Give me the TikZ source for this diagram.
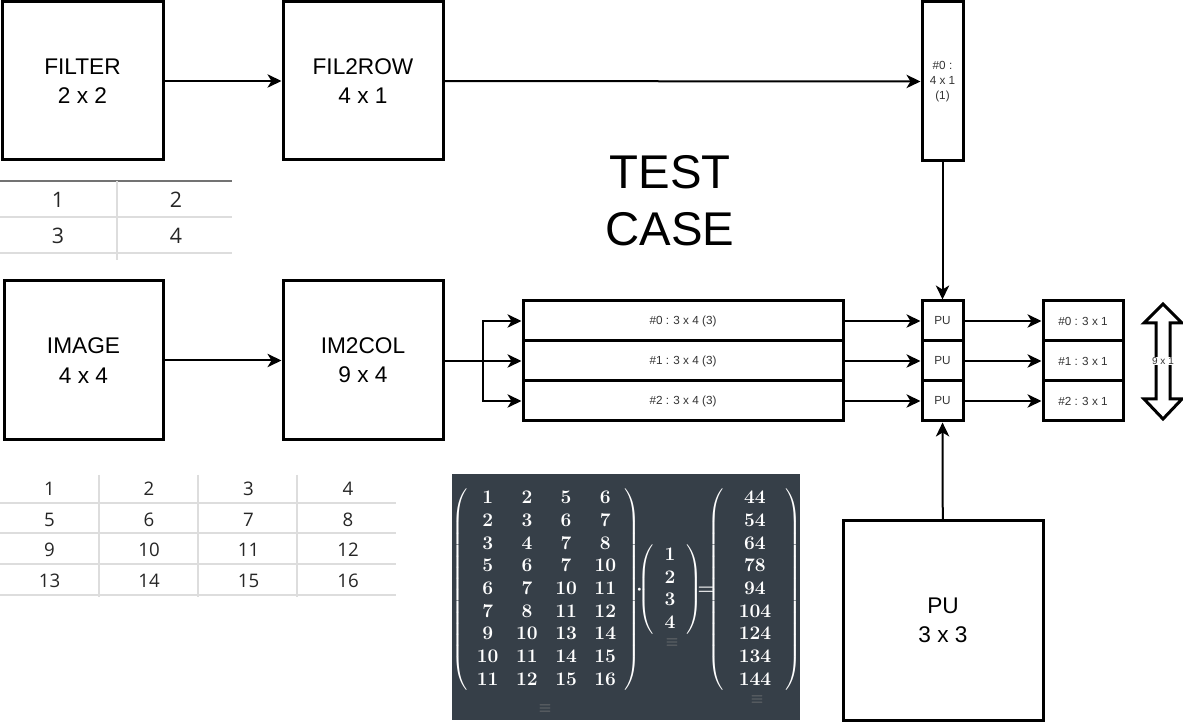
\documentclass[tikz,border=0pt]{standalone}
\usepackage{amsmath,amssymb}
\usepackage{fontspec}
\setmainfont{Liberation Sans}
\newfontfamily\tabfont{Open Sans}
\usetikzlibrary{arrows.meta}

\definecolor{panelbg}{HTML}{363F48}
\definecolor{tabgray}{HTML}{DDDDDD}

\tikzset{
	blk/.style = {draw, line width = 2.25pt, align = center, inner sep = 0pt,
		font = \fontsize{17}{22}\selectfont},
	smallblk/.style = {draw, line width = 2.25pt, align = center, inner sep = 0pt,
		font = \fontsize{8.8}{10.5}\selectfont, text = black!80},
	arr/.style = {line width = 1.5pt, -{Stealth[length = 10.5pt, width = 10pt, inset = 3pt]}},
	tabline/.style = {tabgray, line width = 1pt},
	tabnum/.style = {font = \tabfont\fontsize{14}{16}\selectfont, text = black!85},
	menu/.style = {text = gray, font = \fontsize{12}{12}\selectfont}
}

\begin{document}
\begin{tikzpicture}[x = 0.75pt, y = -0.75pt]
	\useasboundingbox (0,0) rectangle (1183,723);

	% top row
	\node [blk, minimum width = 120.75pt, minimum height = 118.5pt] (filter) at (82.5,81) {FILTER\\2 x 2};
	\node [blk, minimum width = 120pt, minimum height = 118.5pt] (fil2row) at (363,81) {FIL2ROW\\4 x 1};
	\node [smallblk, minimum width = 30.75pt, minimum height = 119.25pt, font = \fontsize{8.8}{11.5}\selectfont] (kernel) at (942.5,81.5) {\#0 :\\4 x 1\\(1)};
	\draw [arr] (filter) -- (fil2row);
	\draw [arr] (fil2row) -- (kernel);

	\node [font = \fontsize{35.5}{43}\selectfont, align = center] (title) at (670,201) {TEST\\CASE};

	% middle row
	\node [blk, minimum width = 119.25pt, minimum height = 119.25pt] (image) at (83.5,360.5) {IMAGE\\4 x 4};
	\node [blk, minimum width = 120pt, minimum height = 119.25pt] (im2col) at (363,360.5) {IM2COL\\9 x 4};
	\draw [arr] (image) -- (im2col);

	\node [smallblk, minimum width = 240pt, minimum height = 30pt] (row0) at (683,321) {\#0 : 3 x 4 (3)};
	\node [smallblk, minimum width = 240pt, minimum height = 30pt] (row1) at (683,361) {\#1 : 3 x 4 (3)};
	\node [smallblk, minimum width = 240pt, minimum height = 30pt] (row2) at (683,401) {\#2 : 3 x 4 (3)};

	\node [smallblk, minimum width = 30.75pt, minimum height = 30pt] (pu0) at (942.5,321) {PU};
	\node [smallblk, minimum width = 30.75pt, minimum height = 30pt] (pu1) at (942.5,361) {PU};
	\node [smallblk, minimum width = 30.75pt, minimum height = 30pt] (pu2) at (942.5,401) {PU};

	\node [smallblk, minimum width = 60pt, minimum height = 30pt] (out0) at (1083,321) {\#0 : 3 x 1};
	\node [smallblk, minimum width = 60pt, minimum height = 30pt] (out1) at (1083,361) {\#1 : 3 x 1};
	\node [smallblk, minimum width = 60pt, minimum height = 30pt] (out2) at (1083,401) {\#2 : 3 x 1};

	\coordinate (split) at (483,361);
	\draw [arr] (im2col.east |- split) -- (row1);
	\draw [arr] (split) |- (row0);
	\draw [arr] (split) |- (row2);
	\draw [arr] (row0) -- (pu0);
	\draw [arr] (row1) -- (pu1);
	\draw [arr] (row2) -- (pu2);
	\draw [arr] (pu0) -- (out0);
	\draw [arr] (pu1) -- (out1);
	\draw [arr] (pu2) -- (out2);
	\draw [arr] (kernel) -- (pu0);

	% 9 x 1 double arrow
	\draw [line width = 2.25pt, line join = miter] (1163,304) -- (1182,323) -- (1170,323) -- (1170,399)
	-- (1182,399) -- (1163,419) -- (1144,399) -- (1156,399) -- (1156,323) -- (1144,323) -- cycle;
	\node [font = \fontsize{7.5}{9}\selectfont, text = black!80, fill = white, inner sep = 0.5pt] (total) at (1163,361) {9 x 1};

	% processing unit
	\node [blk, minimum width = 150pt, minimum height = 149.25pt] (bigpu) at (943,620.5) {PU\\3 x 3};
	\draw [arr] (bigpu) -- (pu2);

	% filter table
	\draw [black!55, line width = 1pt] (0,181) -- (232,181);
	\draw [tabline] (0,217) -- (232,217)
	(0,253) -- (232,253)
	(117,181) -- (117,260);
	\node [tabnum, font = \tabfont\fontsize{16}{18}\selectfont] (f1) at (58,200) {1};
	\node [tabnum, font = \tabfont\fontsize{16}{18}\selectfont] (f2) at (176,200) {2};
	\node [tabnum, font = \tabfont\fontsize{16}{18}\selectfont] (f3) at (58,236) {3};
	\node [tabnum, font = \tabfont\fontsize{16}{18}\selectfont] (f4) at (176,236) {4};

	% image table
	\draw [tabline] (0,503) -- (396,503)
	(0,533) -- (396,533)
	(0,564) -- (396,564)
	(0,595) -- (396,595);
	\foreach \x in {99,198,297}
	\draw [tabline] (\x,475) -- (\x,597);
	\foreach \v [count = \i from 0] in {1,...,16} {
		\pgfmathtruncatemacro{\c}{mod(\i,4)}
		\pgfmathtruncatemacro{\r}{div(\i,4)}
		\node [tabnum] (p\v) at (49.5+99.5*\c, 489+30.5*\r) {\v};
	}

	% im2col product
	\fill [panelbg] (452,474) rectangle (800,720);
	\node [text = white, font = \fontsize{14}{17}\selectfont\mathversion{bold}, inner sep = 0pt] (product) at (627,590)
	{$\arraycolsep = 6.6pt
		\left(\begin{array}{cccc}
			1 & 2 & 5 & 6\\ 2 & 3 & 6 & 7\\ 3 & 4 & 7 & 8\\
			5 & 6 & 7 & 10\\ 6 & 7 & 10 & 11\\ 7 & 8 & 11 & 12\\
			9 & 10 & 13 & 14\\ 10 & 11 & 14 & 15\\ 11 & 12 & 15 & 16
		\end{array}\right)\mkern-7mu{\cdot}\mkern-7mu
		\arraycolsep = 8.1pt
		\left(\begin{array}{c} 1\\ 2\\ 3\\ 4 \end{array}\right)\mkern-7mu{=}\mkern-8.5mu
		\arraycolsep = 11pt
		\left(\begin{array}{c} 44\\ 54\\ 64\\ 78\\ 94\\ 104\\ 124\\ 134\\ 144 \end{array}\right)$};
	\node [menu] (menuA) at (545,709) {$\equiv$};
	\node [menu] (menuB) at (672,643) {$\equiv$};
	\node [menu] (menuC) at (757,700) {$\equiv$};
\end{tikzpicture}
\end{document}
